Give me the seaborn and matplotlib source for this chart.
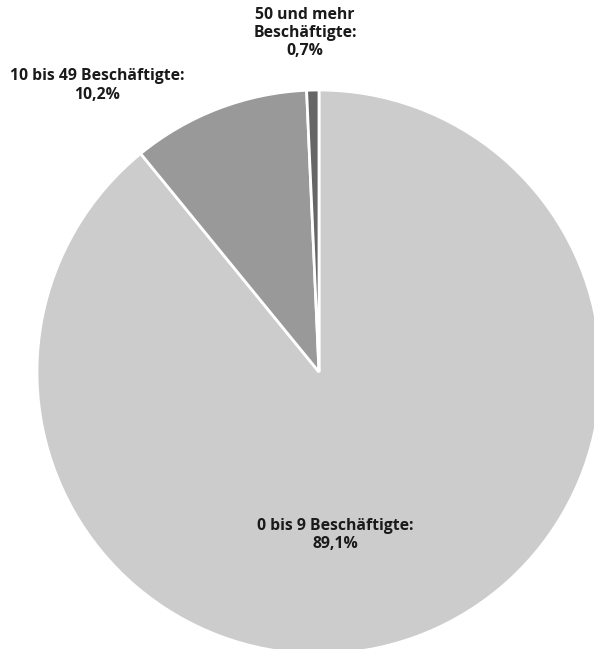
import matplotlib
matplotlib.use("Agg")
import matplotlib.pyplot as plt
import seaborn as sns

# Betriebe nach Beschaeftigtengroessenklassen (Anteile in %)
categories = ["0 bis 9 Beschäftigte", "10 bis 49 Beschäftigte", "50 und mehr\nBeschäftigte"]
shares = [89.1, 10.2, 0.7]
share_labels = ["89,1%", "10,2%", "0,7%"]

sns.set_theme(style="white")
plt.rcParams["font.family"] = ["Open Sans", "DejaVu Sans"]

colors = sns.color_palette(["#cccccc", "#999999", "#666666"])

fig = plt.figure(figsize=(5.94, 6.49), dpi=100)
ax = fig.add_axes([0, 0, 1, 1])

ax.pie(
    shares,
    colors=colors,
    startangle=90,
    counterclock=False,
    radius=1.0,
    wedgeprops=dict(edgecolor="white", linewidth=2),
)

# map pie so that centre sits at (319, 372) px with 282 px radius
cx, cy, r = 319, 372, 282
ax.set_xlim(-cx / r, (594 - cx) / r)
ax.set_ylim((cy - 649) / r, cy / r)
ax.set_aspect("auto")
ax.axis("off")

# label positions (data units)
label_pos = [(0.057, -0.578), (-0.787, 1.016), (-0.05, 1.202)]
for cat, lab, (x, y) in zip(categories, share_labels, label_pos):
    ax.text(x, y, f"{cat}:\n{lab}", ha="center", va="center",
            fontsize=11.3, fontweight="bold", color="#1a1a1a", linespacing=1.2)

plt.savefig("out.png", dpi=100)
